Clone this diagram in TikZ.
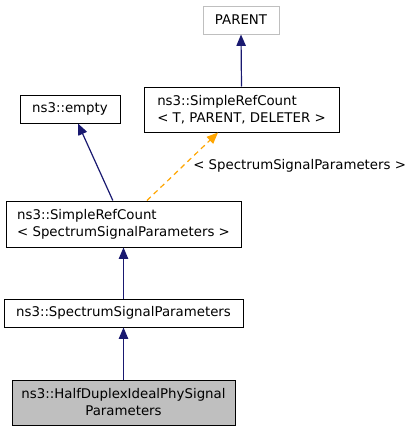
\documentclass[tikz,border=0pt]{standalone}
\usepackage{fontspec}
\setmainfont{DejaVu Sans}
\usetikzlibrary{arrows.meta}

\tikzset{
  cls/.style={draw=black, fill=white, line width=0.75, inner sep=0pt, font=\fontsize{10}{12.75}\selectfont},
  extcls/.style={cls, draw={rgb, 255:red, 191; green, 191; blue, 191}},
  curcls/.style={cls, fill={rgb, 255:red, 191; green, 191; blue, 191}},
  inh/.style={draw={rgb, 255:red, 25; green, 25; blue, 112}, line width=0.9, -{Triangle[length=8.5pt,width=7pt]}},
  tmpl/.style={draw={rgb, 255:red, 255; green, 165; blue, 0}, line width=0.9, dash pattern=on 4pt off 3pt, -{Triangle[length=8.5pt,width=7pt]}}
}

\begin{document}
\begin{tikzpicture}[x=0.75pt,y=0.75pt,yscale=-1,xscale=1]
        \useasboundingbox (0,0) rectangle (412,432);

        %Shape: Rectangle [parent]
        \node [extcls, minimum width=57pt, minimum height=21pt] (parent) at (241,20) {PARENT};
        %Shape: Rectangle [template]
        \node [cls, minimum width=146.25pt, minimum height=33.75pt, align=left] (srct) at (241.5,109.5) {ns3::SimpleRefCount\\< T, PARENT, DELETER >};
        %Shape: Rectangle [empty]
        \node [cls, minimum width=75pt, minimum height=21pt] (empty) at (70,109) {ns3::empty};
        %Shape: Rectangle [instance]
        \node [cls, minimum width=176.25pt, minimum height=34.5pt, align=left] (srcssp) at (123.5,224) {ns3::SimpleRefCount\\< SpectrumSignalParameters >};
        %Shape: Rectangle [base]
        \node [cls, minimum width=179.25pt, minimum height=21pt] (ssp) at (123.5,313) {ns3::SpectrumSignalParameters};
        %Shape: Rectangle [this class]
        \node [curcls, minimum width=167.25pt, minimum height=33.75pt, align=center] (half) at (123.5,402.5) {ns3::HalfDuplexIdealPhySignal\\Parameters};

        %Straight Lines
        \draw [inh] (srct.north) -- (parent.south);
        \draw [inh] ([xshift=-8pt]srcssp.north) -- ([xshift=6pt]empty.south);
        \draw [tmpl] ([xshift=17.6pt]srcssp.north) -- ([xshift=-17.6pt]srct.south);
        \draw [inh] (ssp.north) -- (srcssp.south);
        \draw [inh] (half.north) -- (ssp.south);

        % Text Node
        \node [anchor=west, inner sep=0pt, font=\fontsize{10}{12}\selectfont] (targ) at (193,166) {< SpectrumSignalParameters >};
\end{tikzpicture}
\end{document}
